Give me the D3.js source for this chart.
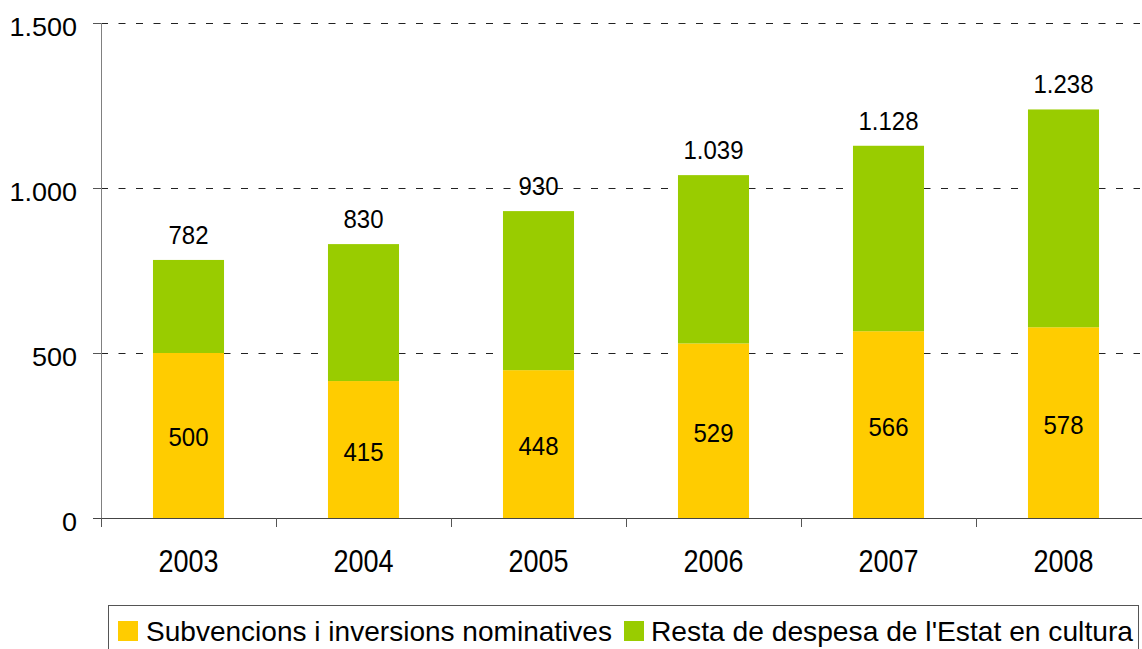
<!DOCTYPE html>
<html><head><meta charset="utf-8">
<script src="https://cdn.jsdelivr.net/npm/d3@7"></script>
<style>body{margin:0;background:#fff}svg{display:block}text{font-family:"Liberation Sans",Arial,sans-serif}</style>
</head><body><svg id="c" width="1142" height="649"></svg>
<script>
const years = ["2003","2004","2005","2006","2007","2008"];
const subvencions = [500,415,448,529,566,578];
const totals = [782,830,930,1039,1128,1238];
const resta = totals.map((t,i)=>t-subvencions[i]);
const yTicks = [0,500,1000,1500];
const seriesNames = ["Subvencions i inversions nominatives","Resta de despesa de l'Estat en cultura"];
const colors = ["#FFCC00","#99CC00"];

const svg = d3.select("#c");
const loc = d3.formatLocale({decimal:",",thousands:".",grouping:[3],currency:["",""]});
const fmt = loc.format(",d");

function stretch(sel, s){
  sel.each(function(){
    const t = d3.select(this);
    const yy = +t.attr("y") || 0;
    t.attr("transform",`translate(0,${yy}) scale(1,${s}) translate(0,${-yy})`);
  });
}

const x = d3.scaleBand().domain(years).range([101,1151]).paddingInner(0.594).paddingOuter(0.297);
const y = d3.scaleLinear().domain([0,1500]).range([518,23]);

// gridlines
svg.append("g").selectAll("line").data(yTicks.filter(d=>d>0)).join("line")
  .attr("x1",101).attr("x2",1140).attr("y1",d=>y(d)+0.5).attr("y2",d=>y(d)+0.5)
  .attr("stroke","#222").attr("stroke-width",1).attr("stroke-dasharray","7,10.5");

// bars
const stack = years.map((yr,i)=>({yr,a:subvencions[i],b:resta[i],t:totals[i]}));
const g = svg.append("g");
g.selectAll("rect.a").data(stack).join("rect")
  .attr("x",d=>x(d.yr)).attr("width",x.bandwidth())
  .attr("y",d=>y(d.a)).attr("height",d=>y(0)-y(d.a)).attr("fill",colors[0]);
g.selectAll("rect.b").data(stack).join("rect")
  .attr("x",d=>x(d.yr)).attr("width",x.bandwidth())
  .attr("y",d=>y(d.t)).attr("height",d=>y(d.a)-y(d.t)).attr("fill",colors[1]);

// labels
g.selectAll("text.in").data(stack).join("text")
  .attr("x",d=>x(d.yr)+x.bandwidth()/2).attr("y",d=>y(d.a/2)+11)
  .attr("text-anchor","middle").attr("font-size",24).attr("fill","#000").text(d=>fmt(d.a))
  .call(stretch,1.1);
g.selectAll("text.top").data(stack).join("text")
  .attr("x",d=>x(d.yr)+x.bandwidth()/2).attr("y",d=>y(d.t)-16)
  .attr("text-anchor","middle").attr("font-size",24).attr("fill","#000").text(d=>fmt(d.t))
  .call(stretch,1.1);

// y axis
const ya = svg.append("g").attr("transform","translate(101,0)")
  .call(d3.axisLeft(y).tickValues(yTicks).tickFormat(fmt).tickSize(8).tickPadding(16));
ya.select(".domain").attr("stroke","#808080").attr("d","M0.5,23V518");
ya.selectAll(".tick line").attr("stroke","#555");
ya.selectAll(".tick text").attr("font-size",27).attr("fill","#000")
  .attr("font-family","Liberation Sans, Arial, sans-serif").attr("dy",null).attr("y",12)
  .call(stretch,0.93);

// x axis
const xa = svg.append("g").attr("transform","translate(0,518)")
  .call(d3.axisBottom(x).tickSize(0));
xa.select(".domain").remove();
xa.selectAll(".tick text").attr("font-size",27).attr("fill","#000")
  .attr("font-family","Liberation Sans, Arial, sans-serif").attr("dy",null).attr("y",54)
  .call(stretch,1.13);
svg.append("line").attr("x1",93).attr("x2",1142).attr("y1",518.5).attr("y2",518.5).attr("stroke","#444");
const bounds = d3.range(years.length+1).map(i=>101+i*x.step());
svg.append("g").selectAll("line").data(bounds).join("line")
  .attr("x1",d=>d+0.5).attr("x2",d=>d+0.5).attr("y1",518).attr("y2",527).attr("stroke","#555");

// legend
const lg = svg.append("g");
lg.append("rect").attr("x",108.5).attr("y",605.5).attr("width",1030).attr("height",50)
  .attr("fill","none").attr("stroke","#555");
const legX = [118,624], legTX = [146,651], legW = [466,482];
seriesNames.forEach((n,i)=>{
  lg.append("rect").attr("x",legX[i]).attr("y",621).attr("width",20).attr("height",20).attr("fill",colors[i]);
  lg.append("text").attr("x",legTX[i]).attr("y",641).attr("font-size",27)
    .attr("textLength",legW[i]).attr("lengthAdjust","spacingAndGlyphs").attr("fill","#000").text(n)
    .call(stretch,1.03);
});
</script></body></html>
